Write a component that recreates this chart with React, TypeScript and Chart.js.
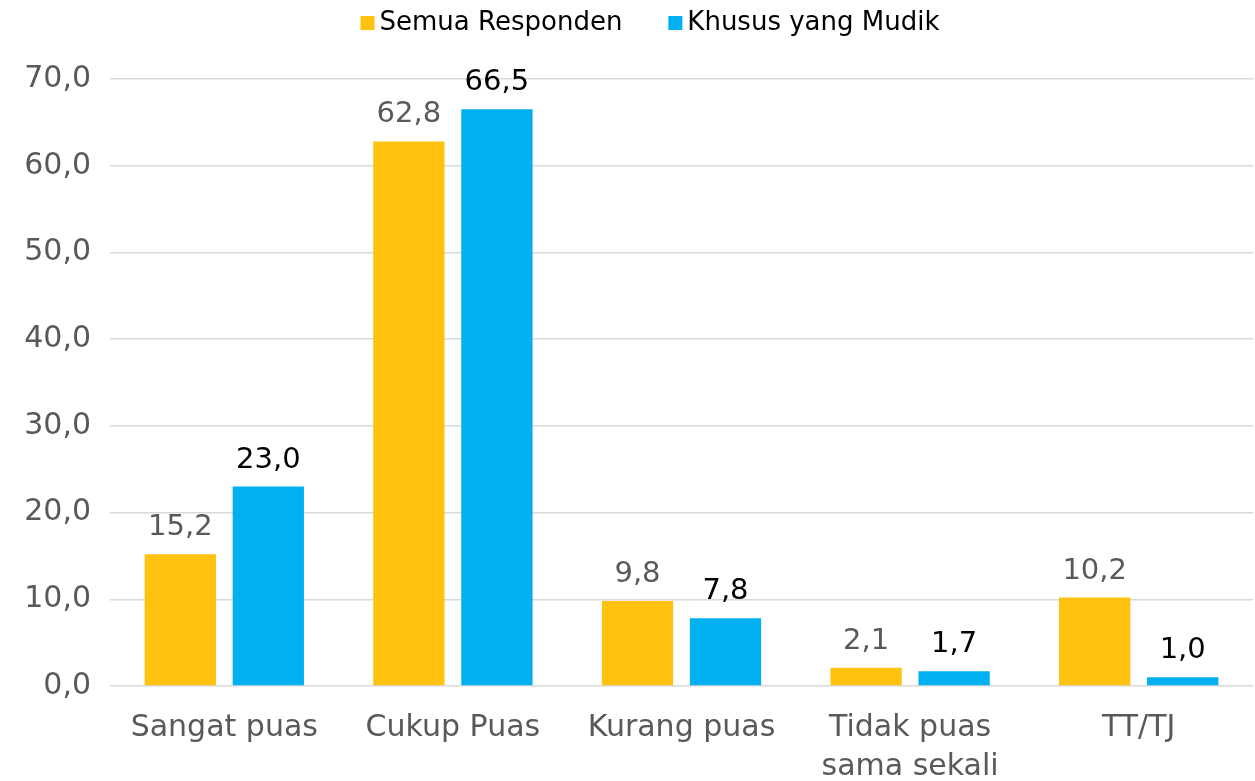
import React, { useEffect, useRef } from "react";
import { Chart, registerables } from "chart.js";

Chart.register(...registerables);

const categories: (string | string[])[] = [
  "Sangat puas",
  "Cukup Puas",
  "Kurang puas",
  ["Tidak puas", "sama sekali"],
  "TT/TJ",
];
const seriesNames = ["Semua Responden", "Khusus yang Mudik"];
const semuaResponden = [15.2, 62.8, 9.8, 2.1, 10.2];
const khususMudik = [23.0, 66.5, 7.8, 1.7, 1.0];
const yTicks = [0, 10, 20, 30, 40, 50, 60, 70];

const FONT = "'DejaVu Sans', 'Noto Sans', sans-serif";
const YELLOW = "#FFC20E";
const BLUE = "#00B0F0";
const GREY = "#595959";

const fmt = (v: number) => v.toFixed(1).replace(".", ",");

const dataLabelPlugin = {
  id: "dataLabels",
  afterDatasetsDraw(chart: any) {
    const ctx = chart.ctx;
    ctx.save();
    ctx.font = `29px ${FONT}`;
    ctx.textAlign = "center";
    ctx.textBaseline = "alphabetic";
    chart.data.datasets.forEach((ds: any, di: number) => {
      const meta = chart.getDatasetMeta(di);
      ctx.fillStyle = di === 0 ? GREY : "#000000";
      meta.data.forEach((el: any, i: number) => {
        ctx.fillText(fmt(ds.data[i]), el.x, el.y - 19);
      });
    });
    ctx.restore();
  },
};

const legendPlugin = {
  id: "customLegend",
  afterDraw(chart: any) {
    const ctx = chart.ctx;
    ctx.save();
    ctx.font = `26px ${FONT}`;
    ctx.textBaseline = "middle";
    ctx.textAlign = "left";
    const box = 14;
    const gap = 5;
    const spacing = 46;
    const items = chart.data.datasets.map((ds: any) => ({
      label: ds.label,
      color: ds.backgroundColor,
      w: ctx.measureText(ds.label).width,
    }));
    const total =
      items.reduce((s: number, it: any) => s + box + gap + it.w, 0) +
      spacing * (items.length - 1);
    let x = 650 - total / 2;
    const cy = 23;
    items.forEach((it: any) => {
      ctx.fillStyle = it.color;
      ctx.fillRect(x, cy - box / 2, box, box);
      x += box + gap;
      ctx.fillStyle = "#000000";
      ctx.fillText(it.label, x, cy);
      x += it.w + spacing;
    });
    ctx.restore();
  },
};

export default function App() {
  const ref = useRef<HTMLCanvasElement | null>(null);
  useEffect(() => {
    if (!ref.current) return;
    const chart = new Chart(ref.current, {
      type: "bar",
      data: {
        labels: categories,
        datasets: [
          {
            label: seriesNames[0],
            data: semuaResponden,
            backgroundColor: YELLOW,
            categoryPercentage: 0.77,
            barPercentage: 0.81,
          },
          {
            label: seriesNames[1],
            data: khususMudik,
            backgroundColor: BLUE,
            categoryPercentage: 0.77,
            barPercentage: 0.81,
          },
        ],
      },
      options: {
        responsive: false,
        animation: false,
        devicePixelRatio: 1,
        layout: { padding: { top: 79, right: 2, bottom: 0, left: 0 } },
        plugins: {
          legend: { display: false },
          tooltip: { enabled: false },
        },
        scales: {
          x: {
            grid: { display: false, drawTicks: false },
            border: { display: false },
            ticks: {
              color: GREY,
              font: { family: FONT, size: 30, lineHeight: 1.3 },
              padding: 23,
              maxRotation: 0,
              autoSkip: false,
            },
            afterFit: (scale: any) => {
              scale.height = 95;
            },
          },
          y: {
            min: 0,
            max: 70,
            afterBuildTicks: (scale: any) => {
              scale.ticks = yTicks.map((v) => ({ value: v }));
            },
            grid: { color: "#D9D9D9", lineWidth: 1.5, drawTicks: false },
            border: { display: false },
            ticks: {
              color: GREY,
              font: { family: FONT, size: 30 },
              padding: 19,
              callback: (v: any) => fmt(Number(v)),
            },
            afterFit: (scale: any) => {
              scale.width = 110;
            },
          },
        },
      },
      plugins: [dataLabelPlugin, legendPlugin],
    });
    return () => chart.destroy();
  }, []);
  return (
    <div style={{ position: "fixed", left: 0, top: 0, width: 1255, height: 781, background: "#fff" }}>
      <canvas ref={ref} width={1255} height={781} />
    </div>
  );
}
